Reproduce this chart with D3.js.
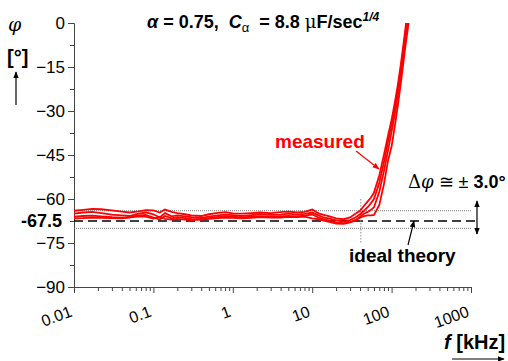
<!DOCTYPE html>
<html>
<head>
<meta charset="utf-8">
<script src="https://cdn.jsdelivr.net/npm/d3@7"></script>
<style>
  body { margin: 0; background: #fff; }
  svg { font-family: "Liberation Sans", Arial, sans-serif; }
</style>
</head>
<body>
<svg id="chart" width="508" height="361"></svg>
<script>
// frequencies in kHz
var freq = [0.01,0.013,0.017,0.022,0.03,0.04,0.05,0.065,0.08,0.1,0.12,0.14,0.17,0.2,0.25,0.3,0.4,0.5,0.65,0.8,
  1,1.3,1.7,2.2,3,4,5,6.5,8,10,12,14,17,20,25,30,35,40,45,50,55,60,70,80,90,100,110,120,130,140,150,160,170];

// measured phase (deg), four runs
var run1 = [-64.0,-63.7,-63.4,-63.5,-63.9,-64.3,-64.6,-64.2,-63.8,-63.9,-64.6,-63.6,-64.4,-64.8,-65.2,-65.6,-65.8,-65.2,-64.7,-64.5,
  -64.9,-65.0,-64.8,-64.6,-64.8,-64.5,-64.3,-64.6,-64.4,-63.6,-64.9,-65.4,-66.0,-66.6,-66.9,-66.3,-65.0,-64.0,-62.3,-60.8,
  -59.5,-57.8,-52.0,-45.0,-38.5,-33.0,-27.0,-21.0,-14.5,-8.0,-1.5,5,12];
var run2 = [-65.0,-64.6,-64.4,-64.8,-65.3,-65.6,-65.8,-65.0,-64.6,-65.2,-66.3,-64.8,-65.9,-65.6,-65.9,-66.2,-66.4,-66.0,-65.6,-65.3,
  -65.5,-65.8,-65.5,-65.2,-65.4,-65.3,-65.0,-65.3,-65.1,-64.6,-65.6,-66.3,-66.8,-67.3,-67.6,-67.2,-66.3,-65.2,-64.0,-62.8,
  -61.4,-60.0,-54.5,-47.5,-40.5,-34.5,-28.5,-22.5,-16.0,-9.5,-3.0,3,10];
var run3 = [-66.0,-65.8,-65.7,-65.9,-66.2,-66.4,-66.3,-65.6,-65.4,-66.3,-67.0,-65.8,-66.6,-66.2,-66.5,-66.8,-66.9,-66.5,-66.1,-65.9,
  -66.0,-66.3,-66.0,-65.9,-66.0,-65.9,-65.8,-65.9,-65.7,-65.3,-66.3,-66.9,-67.5,-68.0,-68.2,-67.9,-67.2,-66.0,-65.0,-64.4,
  -63.7,-62.8,-57.5,-50.5,-43.5,-37.0,-31.0,-24.5,-18.0,-11.5,-5.0,1,8];
var run4 = [-66.6,-66.5,-66.3,-66.4,-66.5,-66.6,-66.2,-66.0,-66.0,-66.7,-66.0,-66.8,-67.0,-66.8,-67.0,-67.2,-67.0,-66.8,-66.5,-66.3,
  -66.4,-66.6,-66.4,-66.2,-66.3,-66.3,-66.1,-66.2,-66.0,-66.6,-66.9,-67.4,-67.9,-68.4,-68.5,-68.0,-67.3,-66.4,-65.8,-65.6,
  -65.6,-65.4,-62.0,-55.0,-47.0,-42.0,-35.0,-28.0,-21.0,-14.0,-7.5,-2.0,3];
var runs = [run1, run2, run3, run4];

var yTicks = [0, -15, -30, -45, -60, -75, -90];
var yMinor = [-7.5, -22.5, -37.5, -52.5, -67.5, -82.5];
var xTicks = [0.01, 0.1, 1, 10, 100, 1000];
var xTickLabels = ['0.01', '0.1', '1', '10', '100', '1000'];
var idealPhase = -67.5;
var band = [-64.0, -70.0];
var cornerFreq = 41;

var svg = d3.select('#chart');
var margin = {left: 74, top: 23, right: 37, bottom: 74};
var W = 508 - margin.left - margin.right,
    H = 361 - margin.top - margin.bottom;

var x = d3.scaleLog().domain([0.01, 1000]).range([0, W]);
var y = d3.scaleLinear().domain([-90, 0]).range([H, 0]);

var g = svg.append('g').attr('transform', 'translate(' + margin.left + ',' + margin.top + ')');

// defs: clip + arrowheads
var defs = svg.append('defs');
defs.append('clipPath').attr('id', 'clip')
  .append('rect').attr('x', 0).attr('y', 0).attr('width', W + 10).attr('height', H);
function marker(id, color) {
  defs.append('marker').attr('id', id)
    .attr('viewBox', '0 0 10 10').attr('refX', 9).attr('refY', 5)
    .attr('markerWidth', 7).attr('markerHeight', 7).attr('orient', 'auto-start-reverse')
    .attr('markerUnits', 'userSpaceOnUse')
    .append('path').attr('d', 'M0,1 L10,5 L0,9 Z').attr('fill', color);
}
marker('arrK', '#000');
marker('arrR', '#f00');

// y axis
var yAxis = g.append('g').call(d3.axisLeft(y).tickValues(yTicks).tickSize(6).tickPadding(3)
  .tickFormat(function(d){ return d === 0 ? '0' : d3.format('d')(d); }));
yAxis.selectAll('text').attr('font-size', 17).attr('fill', '#000').attr('font-family', '"Liberation Sans", Arial, sans-serif');
yAxis.select('.domain').attr('stroke', '#444');
yAxis.selectAll('.tick line').attr('stroke', '#444');
g.append('g').call(d3.axisLeft(y).tickValues(yMinor).tickSize(4).tickFormat(''))
  .call(function(s){ s.select('.domain').remove(); s.selectAll('line').attr('stroke', '#444'); });

g.append('text').attr('x', -12).attr('y', y(idealPhase) + 6)
  .attr('text-anchor', 'end').attr('font-size', 18).attr('font-weight', 'bold').text('-67.5');

// x axis
var minor = [];
for (var e = -2; e < 3; e++) for (var m = 2; m <= 9; m++) minor.push(m * Math.pow(10, e));
var xAxis = g.append('g').attr('transform', 'translate(0,' + H + ')')
  .call(d3.axisBottom(x).tickValues(xTicks).tickSize(6).tickFormat(''));
xAxis.select('.domain').attr('stroke', '#444');
xAxis.selectAll('line').attr('stroke', '#444');
g.append('g').attr('transform', 'translate(0,' + H + ')')
  .call(d3.axisBottom(x).tickValues(minor).tickSize(4).tickFormat(''))
  .call(function(s){ s.select('.domain').remove(); s.selectAll('line').attr('stroke', '#444'); });

g.selectAll('.xlab').data(xTicks).enter().append('text')
  .attr('class', 'xlab')
  .attr('transform', function(d){ return 'translate(' + (x(d) - 1) + ',' + (H + 29) + ') rotate(-20)'; })
  .attr('text-anchor', 'end').attr('font-size', 16)
  .text(function(d, i){ return xTickLabels[i]; });

// reference lines
g.selectAll('.band').data(band).enter().append('line')
  .attr('x1', 0).attr('x2', x(1000)).attr('y1', function(d){ return y(d); }).attr('y2', function(d){ return y(d); })
  .attr('stroke', '#777').attr('stroke-width', 1).attr('stroke-dasharray', '1,1');
g.append('line').attr('x1', 0).attr('x2', x(1000) + 5).attr('y1', y(idealPhase)).attr('y2', y(idealPhase))
  .attr('stroke', '#000').attr('stroke-width', 1.6).attr('stroke-dasharray', '9,5');
g.append('line').attr('x1', x(cornerFreq)).attr('x2', x(cornerFreq)).attr('y1', y(-60)).attr('y2', y(-75))
  .attr('stroke', '#888').attr('stroke-width', 1).attr('stroke-dasharray', '1.5,1.5');

// measured curves
var line = d3.line().x(function(d, i){ return x(freq[i]); }).y(function(d){ return y(d); });
g.append('g').attr('clip-path', 'url(#clip)').selectAll('path').data(runs).enter().append('path')
  .attr('d', line).attr('fill', 'none').attr('stroke', '#f00').attr('stroke-width', 1.8);

// double arrow for tolerance
svg.append('line').attr('x1', 477).attr('x2', 477).attr('y1', 201).attr('y2', 234)
  .attr('stroke', '#000').attr('stroke-width', 1.2)
  .attr('marker-start', 'url(#arrK)').attr('marker-end', 'url(#arrK)');

// annotations
svg.append('text').attr('x', 147).attr('y', 28).attr('font-size', 18).attr('font-weight', 'bold')
  .attr('xml:space', 'preserve').style('white-space', 'pre')
  .call(function(t){
    t.append('tspan').attr('font-style', 'italic').text('α');
    t.append('tspan').text(' = 0.75,  ');
    t.append('tspan').attr('font-style', 'italic').text('C');
    t.append('tspan').attr('font-size', 13).attr('font-weight', 'normal').attr('dy', 4).text('α');
    t.append('tspan').attr('dy', -4).text('  = 8.8 ');
    t.append('tspan').attr('font-family', '"DejaVu Serif", serif').attr('font-weight', 'normal').text('μ');
    t.append('tspan').text('F/sec');
    t.append('tspan').attr('font-size', 12).attr('font-style', 'italic').attr('dy', -7).text('1/4');
  });

svg.append('text').attr('x', 8).attr('y', 31).attr('font-size', 19).attr('font-style', 'italic')
  .attr('font-family', '"DejaVu Serif", serif').text('φ');
svg.append('text').attr('x', 7).attr('y', 64).attr('font-size', 20).attr('font-weight', 'bold').text('[°]');
svg.append('line').attr('x1', 16).attr('x2', 16).attr('y1', 105).attr('y2', 72)
  .attr('stroke', '#000').attr('stroke-width', 1.2).attr('marker-end', 'url(#arrK)');

svg.append('text').attr('x', 275).attr('y', 148).attr('font-size', 19).attr('font-weight', 'bold')
  .attr('fill', '#f00').text('measured');
svg.append('line').attr('x1', 356).attr('y1', 151).attr('x2', 379).attr('y2', 169)
  .attr('stroke', '#f00').attr('stroke-width', 1.2).attr('marker-end', 'url(#arrR)');

svg.append('text').attr('x', 408).attr('y', 188).attr('font-size', 18)
  .call(function(t){
    t.append('tspan').attr('font-family', '"DejaVu Serif", serif').text('Δ');
    t.append('tspan').attr('font-family', '"DejaVu Serif", serif').attr('font-style', 'italic').text('φ');
    t.append('tspan').text(' ≅ ± ');
    t.append('tspan').attr('font-weight', 'bold').text('3.0°');
  });

svg.append('text').attr('x', 349).attr('y', 262).attr('font-size', 19).attr('font-weight', 'bold').text('ideal theory');
svg.append('line').attr('x1', 408).attr('y1', 245).attr('x2', 414).attr('y2', 221)
  .attr('stroke', '#000').attr('stroke-width', 1.2).attr('marker-end', 'url(#arrK)');

svg.append('text').attr('x', 444).attr('y', 349).attr('font-size', 20).attr('font-weight', 'bold')
  .call(function(t){
    t.append('tspan').attr('font-style', 'italic').text('f');
    t.append('tspan').text(' [kHz]');
  });
svg.append('line').attr('x1', 452).attr('x2', 504).attr('y1', 359).attr('y2', 359)
  .attr('stroke', '#000').attr('stroke-width', 1.2).attr('marker-end', 'url(#arrK)');
</script>
</body>
</html>
